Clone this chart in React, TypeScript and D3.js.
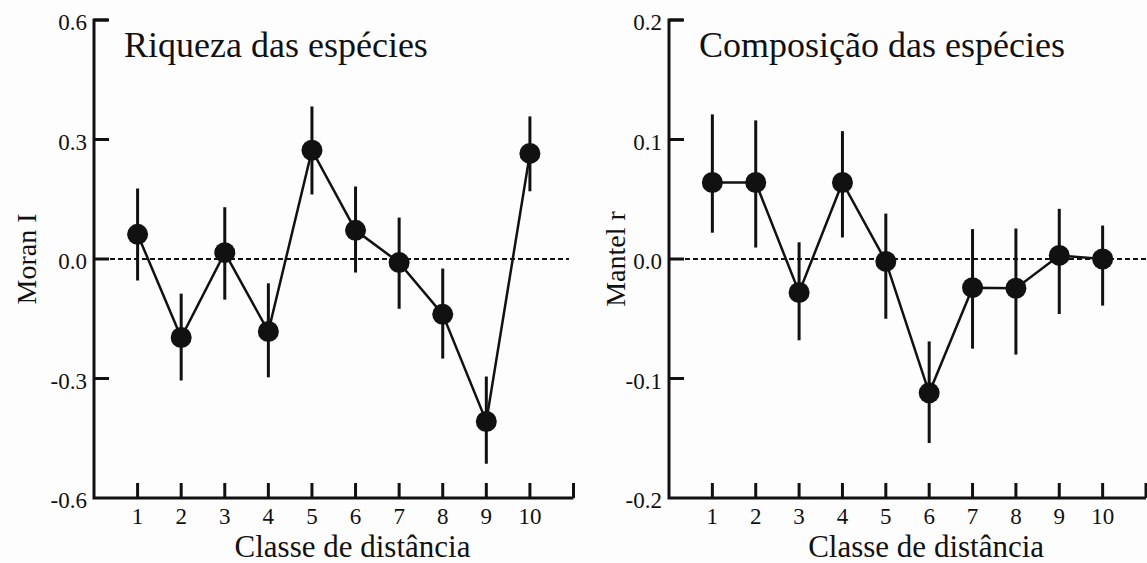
import React from "react";
import * as d3 from "d3";

// ---- data ----
const classes = [1, 2, 3, 4, 5, 6, 7, 8, 9, 10];
const classTickLabels = ["1", "2", "3", "4", "5", "6", "7", "8", "9", "10"];

const richnessMean = [0.062, -0.197, 0.016, -0.182, 0.273, 0.072, -0.009, -0.139, -0.408, 0.265];
const richnessLower = [-0.054, -0.305, -0.102, -0.297, 0.162, -0.034, -0.125, -0.25, -0.514, 0.17];
const richnessUpper = [0.177, -0.087, 0.13, -0.061, 0.383, 0.182, 0.104, -0.024, -0.295, 0.358];

const compMean = [0.064, 0.064, -0.028, 0.064, -0.002, -0.112, -0.024, -0.0245, 0.003, 0.0];
const compLower = [0.022, 0.0096, -0.068, 0.018, -0.05, -0.154, -0.075, -0.08, -0.046, -0.039];
const compUpper = [0.121, 0.116, 0.014, 0.107, 0.038, -0.069, 0.025, 0.0255, 0.042, 0.028];

const leftYTicks = [-0.6, -0.3, 0, 0.3, 0.6];
const leftYTickLabels = ["-0.6", "-0.3", "0.0", "0.3", "0.6"];
const rightYTicks = [-0.2, -0.1, 0, 0.1, 0.2];
const rightYTickLabels = ["-0.2", "-0.1", "0.0", "0.1", "0.2"];

const FONT = "'Liberation Serif', 'Times New Roman', Times, serif";
const INK = "#111";

type PanelProps = {
  x0: number;
  x1: number;
  yDomain: [number, number];
  yTicks: number[];
  yTickLabels: string[];
  mean: number[];
  lower: number[];
  upper: number[];
  title: string;
  yTitle: string;
  yTitleX: number;
  dashEnd: number;
};

function Panel(p: PanelProps) {
  const top = 20;
  const bottom = 498;
  const x = d3.scaleLinear().domain([0, 11]).range([p.x0, p.x1]);
  const y = d3.scaleLinear().domain(p.yDomain).range([bottom, top]);
  const line = d3
    .line<number>()
    .x((_, i) => x(classes[i]))
    .y((d) => y(d));
  const xTicks = [...classes, 11];
  return (
    <g>
      {/* zero reference line */}
      <line
        x1={x(0)}
        x2={p.dashEnd}
        y1={y(0)}
        y2={y(0)}
        stroke={INK}
        strokeWidth={2}
        strokeDasharray="5,3"
      />
      {/* axes */}
      <path
        d={`M${x(0) + 14},${y(p.yDomain[1])}H${x(0)}V${bottom}H${x(11)}`}
        fill="none"
        stroke={INK}
        strokeWidth={3}
      />
      {p.yTicks.map((t, i) =>
        i === 0 ? null : (
          <line key={"yt" + i} x1={x(0)} x2={x(0) + 15} y1={y(t)} y2={y(t)} stroke={INK} strokeWidth={3} />
        )
      )}
      {p.yTicks.map((t, i) => (
        <text
          key={"yl" + i}
          x={x(0) - 7}
          y={y(t) + 10}
          textAnchor="end"
          fontFamily={FONT}
          fontSize={23}
          fill={INK}
        >
          {p.yTickLabels[i]}
        </text>
      ))}
      {xTicks.map((c, i) => (
        <line key={"xt" + i} x1={x(c)} x2={x(c)} y1={bottom} y2={bottom - 15} stroke={INK} strokeWidth={3} />
      ))}
      {classes.map((c, i) => (
        <text
          key={"xl" + i}
          x={x(c)}
          y={524}
          textAnchor="middle"
          fontFamily={FONT}
          fontSize={23}
          fill={INK}
        >
          {classTickLabels[i]}
        </text>
      ))}
      {/* error bars */}
      {classes.map((c, i) => (
        <line
          key={"eb" + i}
          x1={x(c)}
          x2={x(c)}
          y1={y(p.lower[i])}
          y2={y(p.upper[i])}
          stroke={INK}
          strokeWidth={3}
        />
      ))}
      {/* connecting line */}
      <path d={line(p.mean) || ""} fill="none" stroke={INK} strokeWidth={2.5} />
      {/* points */}
      {classes.map((c, i) => (
        <circle key={"pt" + i} cx={x(c)} cy={y(p.mean[i])} r={10.5} fill={INK} />
      ))}
      {/* titles */}
      <text x={x(0) + 30} y={57} fontFamily={FONT} fontSize={36} fill={INK}>
        {p.title}
      </text>
      <text
        x={x(5.93)}
        y={557}
        textAnchor="middle"
        fontFamily={FONT}
        fontSize={31}
        fill={INK}
      >
        Classe de distância
      </text>
      <text
        transform={`translate(${p.yTitleX},${y(0)}) rotate(-90)`}
        textAnchor="middle"
        fontFamily={FONT}
        fontSize={28}
        fill={INK}
      >
        {p.yTitle}
      </text>
    </g>
  );
}

export default function App() {
  return (
    <svg
      width={1147}
      height={563}
      style={{ position: "absolute", left: 0, top: 0, background: "#fdfdfd" }}
    >
      <Panel
        x0={94}
        x1={573.5}
        yDomain={[-0.6, 0.6]}
        yTicks={leftYTicks}
        yTickLabels={leftYTickLabels}
        mean={richnessMean}
        lower={richnessLower}
        upper={richnessUpper}
        title="Riqueza das espécies"
        yTitle="Moran I"
        yTitleX={36}
        dashEnd={569}
      />
      <Panel
        x0={669}
        x1={1146}
        yDomain={[-0.2, 0.2]}
        yTicks={rightYTicks}
        yTickLabels={rightYTickLabels}
        mean={compMean}
        lower={compLower}
        upper={compUpper}
        title="Composição das espécies"
        yTitle="Mantel r"
        yTitleX={625}
        dashEnd={1147}
      />
    </svg>
  );
}
